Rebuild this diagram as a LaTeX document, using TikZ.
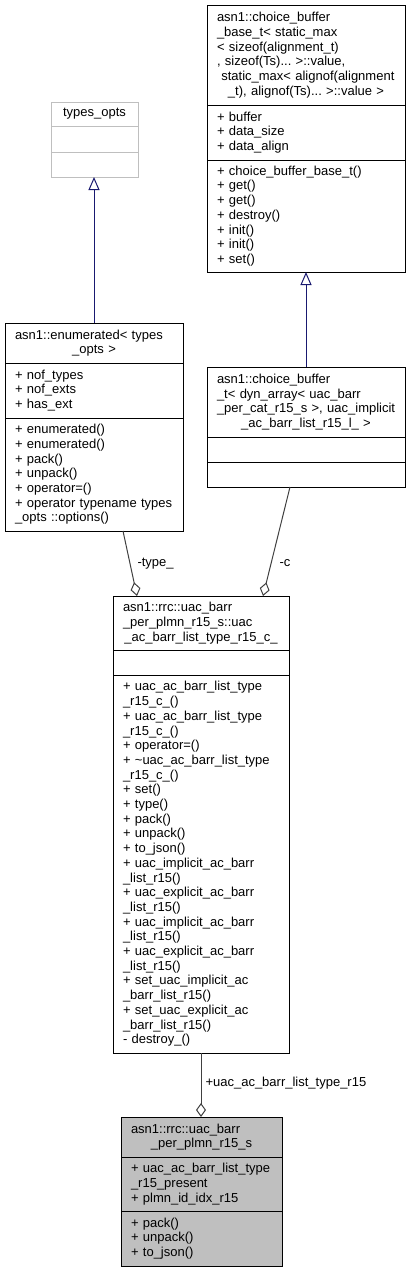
\documentclass[tikz,border=0pt]{standalone}
\usepackage{fontspec}
\setmainfont{Liberation Sans}
\usepackage{tikz}
\usetikzlibrary{positioning,arrows.meta}

\newcommand{\classfont}{\fontsize{13}{14.7}\selectfont\frenchspacing}
\newcommand{\lastline}[1]{\makebox[\linewidth]{#1}}
\definecolor{edgeblue}{HTML}{191970}
\definecolor{edgegray}{HTML}{404040}
\definecolor{boxgray}{HTML}{BFBFBF}

\begin{document}
\begin{tikzpicture}[x=1pt, y=-1pt,
    every node/.style={font=\classfont},
    classpart/.style={draw, line width=1pt, fill=white, text width=#1, inner xsep=10pt, inner ysep=0pt, outer sep=0pt, anchor=north, align=left},
    inherit/.style={draw=edgeblue, line width=1pt, -{Triangle[open, length=13pt, width=11pt]}},
    aggr/.style={draw=edgegray, line width=1pt, -{Diamond[open, length=14pt, width=10pt]}},
    lbl/.style={inner sep=2pt, text=black}]

    \useasboundingbox (0,0) rectangle (413,1272);

    % base of the choice buffer
    \node [classpart=178, minimum height=100] (basetitle) at (306,5)
      {asn1::choice\_buffer\\
       \_base\_t<~static\_max\\
       <~sizeof(alignment\_t)\\
       ,~sizeof(Ts)...~>::value,\\
       \ static\_max<~alignof(alignment\\
       \lastline{\_t),~alignof(Ts)...~>::value~>}};
    \node [classpart=178, minimum height=55, below=0pt of basetitle] (baseattr)
      {+ buffer\\+ data\_size\\+ data\_align};
    \node [classpart=178, minimum height=112, below=0pt of baseattr] (basemeth)
      {+ choice\_buffer\_base\_t()\\+ get()\\+ get()\\+ destroy()\\+ init()\\+ init()\\+ set()};

    % template parameter
    \node [classpart=67, draw=boxgray, minimum height=24] (typestitle) at (94.5,102) {\lastline{types\_opts}};
    \node [classpart=67, draw=boxgray, minimum height=26, below=0pt of typestitle] (typesattr) {};
    \node [classpart=67, draw=boxgray, minimum height=25, below=0pt of typesattr] (typesmeth) {};

    % enumerated
    \node [classpart=158, minimum height=40] (enumtitle) at (94,323)
      {asn1::enumerated<~types\\
       \lastline{\_opts~>}};
    \node [classpart=158, minimum height=55, below=0pt of enumtitle] (enumattr)
      {+ nof\_types\\+ nof\_exts\\+ has\_ext};
    \node [classpart=158, minimum height=113, below=0pt of enumattr] (enummeth)
      {+ enumerated()\\+ enumerated()\\+ pack()\\+ unpack()\\+ operator=()\\+~operator~typename~types\\\_opts ::options()};

    % choice buffer
    \node [classpart=178, minimum height=70] (cbufftitle) at (306,367)
      {asn1::choice\_buffer\\
       \_t<~dyn\_array<~uac\_barr\\
       \_per\_cat\_r15\_s~>,~uac\_implicit\\
       \lastline{\_ac\_barr\_list\_r15\_l\_~>}};
    \node [classpart=178, minimum height=25, below=0pt of cbufftitle] (cbuffattr) {};
    \node [classpart=178, minimum height=25, below=0pt of cbuffattr] (cbuffmeth) {};

    % list type choice
    \node [classpart=156, minimum height=54] (listtitle) at (201,596)
      {asn1::rrc::uac\_barr\\
       \_per\_plmn\_r15\_s::uac\\
       \lastline{\_ac\_barr\_list\_type\_r15\_c\_}};
    \node [classpart=156, minimum height=25, below=0pt of listtitle] (listattr) {};
    \node [classpart=156, minimum height=378, below=0pt of listattr] (listmeth)
      {+ uac\_ac\_barr\_list\_type\\\_r15\_c\_()\\
       + uac\_ac\_barr\_list\_type\\\_r15\_c\_()\\
       + operator=()\\
       + \textasciitilde uac\_ac\_barr\_list\_type\\\_r15\_c\_()\\
       + set()\\+ type()\\+ pack()\\+ unpack()\\+ to\_json()\\
       + uac\_implicit\_ac\_barr\\\_list\_r15()\\
       + uac\_explicit\_ac\_barr\\\_list\_r15()\\
       + uac\_implicit\_ac\_barr\\\_list\_r15()\\
       + uac\_explicit\_ac\_barr\\\_list\_r15()\\
       + set\_uac\_implicit\_ac\\\_barr\_list\_r15()\\
       + set\_uac\_explicit\_ac\\\_barr\_list\_r15()\\
       - destroy\_()};

    % per plmn struct
    \node [classpart=141, fill=boxgray, minimum height=40] (plmntitle) at (201.5,1117)
      {asn1::rrc::uac\_barr\\
       \lastline{\_per\_plmn\_r15\_s}};
    \node [classpart=141, fill=boxgray, minimum height=54, below=0pt of plmntitle] (plmnattr)
      {+ uac\_ac\_barr\_list\_type\\\_r15\_present\\+ plmn\_id\_idx\_r15};
    \node [classpart=141, fill=boxgray, minimum height=55, below=0pt of plmnattr] (plmnmeth)
      {+ pack()\\+ unpack()\\+ to\_json()};

    \draw [inherit] (enumtitle.north) -- (enumtitle.north |- typesmeth.south);
    \draw [inherit] (cbufftitle.north) -- (basemeth.south);
    \draw [aggr] ([xshift=29pt]enummeth.south) -- ([xshift=-64pt]listtitle.north)
      node [lbl, pos=0.5, right=5pt] {-type\_};
    \draw [aggr] ([xshift=-16pt]cbuffmeth.south) -- ([xshift=62pt]listtitle.north)
      node [lbl, pos=0.7, right=6pt] {-c};
    \draw [aggr] (listmeth.south) -- (listmeth.south |- plmntitle.north)
      node [lbl, pos=0.47, right=2pt] {+uac\_ac\_barr\_list\_type\_r15};
\end{tikzpicture}
\end{document}
